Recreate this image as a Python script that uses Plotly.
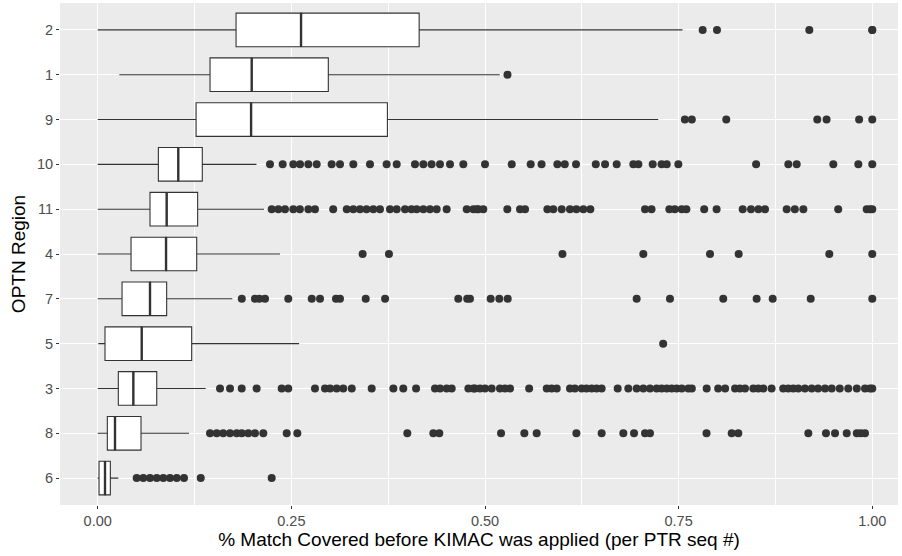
import plotly.graph_objects as go

regions = ['2', '1', '9', '10', '11', '4', '7', '5', '3', '8', '6']
q1 = [0.1786, 0.145, 0.127, 0.0783, 0.0675, 0.043, 0.0314, 0.0094, 0.0266, 0.0124, 0.0017]
median = [0.2625, 0.1988, 0.198, 0.104, 0.089, 0.0882, 0.0675, 0.0568, 0.046, 0.0223, 0.0094]
q3 = [0.415, 0.2977, 0.374, 0.135, 0.129, 0.1278, 0.089, 0.1213, 0.0762, 0.0559, 0.0163]
lower = [0.0, 0.0279, 0.0, 0.0, 0.0, 0.0, 0.0, 0.0008, 0.0, 0.0, 0.0]
upper = [0.755, 0.519, 0.7237, 0.205, 0.2147, 0.2353, 0.1738, 0.26, 0.1394, 0.1179, 0.0266]

outliers = {
    '2': [0.781, 0.7995, 0.9187, 1.0, 1.0],
    '1': [0.529],
    '9': [0.758, 0.767, 0.8115, 0.929, 0.941, 0.983, 1.0],
    '10': [0.2224, 0.2388, 0.2525, 0.2612, 0.2719, 0.2827, 0.302, 0.3128, 0.33, 0.3515,
           0.373, 0.386, 0.4096, 0.4204, 0.431, 0.4419, 0.4548, 0.472,
           0.5, 0.5345, 0.559, 0.573, 0.5934, 0.603, 0.6175, 0.643, 0.655, 0.670,
           0.6915, 0.698, 0.7165, 0.728, 0.7346, 0.7496, 0.85, 0.8916, 0.9024,
           0.9497, 0.982, 1.0],
    '11': [0.2246, 0.2332, 0.2418, 0.2525, 0.261, 0.272, 0.2805, 0.304, 0.3215, 0.33,
           0.3386, 0.347, 0.3558, 0.3644, 0.3773, 0.386, 0.3967, 0.405, 0.4118, 0.4204,
           0.429, 0.4376, 0.4505, 0.4764, 0.4893, 0.485, 0.4914, 0.4978, 0.5288, 0.5452,
           0.5517, 0.5805, 0.5882, 0.599, 0.6097, 0.618, 0.627, 0.636, 0.7066, 0.715,
           0.738, 0.745, 0.754, 0.760, 0.783, 0.799, 0.8327, 0.8434, 0.853, 0.8615,
           0.8895, 0.90, 0.911, 0.956, 0.9928, 0.997, 1.0],
    '4': [0.342, 0.376, 0.60, 0.7044, 0.7905, 0.8275, 0.9445, 1.0],
    '7': [0.186, 0.203, 0.2087, 0.216, 0.246, 0.2763, 0.287, 0.3076, 0.3128, 0.346,
          0.371, 0.4655, 0.477, 0.4806, 0.5073, 0.5185, 0.5293, 0.6958, 0.7388,
          0.8076, 0.8507, 0.8714, 0.9205, 1.0],
    '5': [0.730],
    '3': [0.1579, 0.1708, 0.1859, 0.2052, 0.2375, 0.246, 0.2805, 0.2934, 0.30, 0.3085,
          0.317, 0.328, 0.3537, 0.3817, 0.3945, 0.411, 0.4354, 0.442, 0.4505, 0.457,
          0.4785, 0.487, 0.485, 0.4935, 0.5, 0.5086, 0.5193, 0.5258, 0.5323, 0.557,
          0.5797, 0.586, 0.5926, 0.6097, 0.616, 0.6248, 0.631, 0.6377, 0.644, 0.6506,
          0.6713, 0.685, 0.6958, 0.7044, 0.713, 0.7216, 0.728, 0.7346, 0.741, 0.7475,
          0.754, 0.7625, 0.767, 0.7862, 0.801, 0.81, 0.8228, 0.829, 0.8357, 0.8464,
          0.8528, 0.8593, 0.87, 0.885, 0.8916, 0.898, 0.9044, 0.913, 0.9218, 0.930,
          0.939, 0.9476, 0.958, 0.969, 0.98, 0.9906, 0.997, 1.0],
    '8': [0.145, 0.1536, 0.162, 0.1708, 0.1794, 0.186, 0.1944, 0.203, 0.2138, 0.244,
          0.2577, 0.3997, 0.4333, 0.441, 0.5207, 0.5508, 0.5667, 0.618, 0.6506, 0.6786,
          0.6924, 0.7066, 0.713, 0.786, 0.8185, 0.827, 0.9174, 0.9402, 0.9519, 0.967,
          0.98, 0.985, 0.9906],
    '6': [0.0503, 0.0589, 0.0675, 0.0762, 0.0847, 0.0933, 0.102, 0.1114, 0.133, 0.2246],
}

x_ticks = [0.0, 0.25, 0.5, 0.75, 1.0]
x_ticklabels = ['0.00', '0.25', '0.50', '0.75', '1.00']

LINE = '#333333'

fig = go.Figure()

fig.add_trace(go.Box(
    y=regions, q1=q1, median=median, q3=q3,
    lowerfence=lower, upperfence=upper,
    orientation='h', boxpoints=False, width=0.75,
    fillcolor='white', line=dict(color=LINE, width=1.1),
    whiskerwidth=0, showlegend=False, hoverinfo='skip',
))

# thicker median line like ggplot
fig.add_trace(go.Scatter(
    x=median, y=regions, mode='markers',
    marker=dict(symbol='line-ns-open', size=24.5, color=LINE,
                line=dict(color=LINE, width=2.4)),
    showlegend=False, hoverinfo='skip',
))

ox, oy = [], []
for r in regions:
    for v in outliers[r]:
        ox.append(v)
        oy.append(r)
fig.add_trace(go.Scatter(
    x=ox, y=oy, mode='markers',
    marker=dict(color=LINE, size=8, line=dict(width=0)),
    showlegend=False, hoverinfo='skip',
))

fig.update_layout(
    width=902, height=556,
    margin=dict(l=60, r=4, t=3, b=51),
    paper_bgcolor='white', plot_bgcolor='#EBEBEB',
    font=dict(family='Liberation Sans, Arial, sans-serif'),
    hovermode=False,
    xaxis=dict(
        range=[-0.0487, 1.0332], tickvals=x_ticks, ticktext=x_ticklabels,
        showgrid=True, gridcolor='white', gridwidth=1.1, zeroline=False,
        ticks='outside', ticklen=3, tickcolor=LINE, tickwidth=1,
        tickfont=dict(size=14.5, color='#4D4D4D'),
        minor=dict(tickvals=[0.125, 0.375, 0.625, 0.875], showgrid=True,
                   gridcolor='white', gridwidth=0.5, ticks=''),
        title=dict(text='% Match Covered before KIMAC was applied (per PTR seq #)',
                   font=dict(size=19, color='black'), standoff=4),
        showline=False,
    ),
    yaxis=dict(
        type='category', categoryorder='array', categoryarray=regions[::-1],
        range=[-0.6, 10.6],
        showgrid=True, gridcolor='white', gridwidth=1.1, zeroline=False,
        ticks='outside', ticklen=3, tickcolor=LINE, tickwidth=1,
        tickfont=dict(size=14.5, color='#4D4D4D'),
        title=dict(text='OPTN Region', font=dict(size=19, color='black'), standoff=6),
        showline=False,
    ),
)

fig.write_html('out.html', config={'displayModeBar': False},
               post_script="document.body.style.margin='0';")
